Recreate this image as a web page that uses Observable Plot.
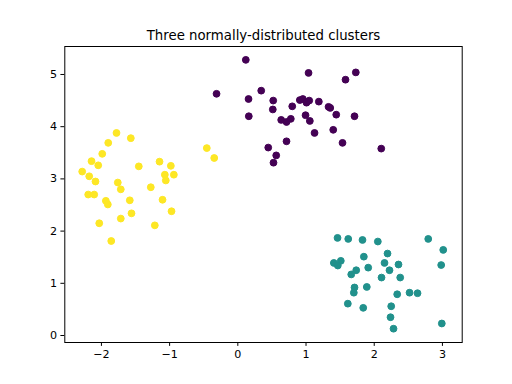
<!DOCTYPE html>
<html><head><meta charset="utf-8">
<script src="https://cdn.jsdelivr.net/npm/d3@7"></script>
<script src="https://cdn.jsdelivr.net/npm/@observablehq/plot@0.6"></script>
<style>body{margin:0;background:#fff;}</style>
</head><body><div id="chart"></div>
<script>
const title = "Three normally-distributed clusters";
const xTicks = [-2, -1, 0, 1, 2, 3];
const yTicks = [0, 1, 2, 3, 4, 5];
const clusterNames = ["A", "B", "C"];
const clusterColors = ["#440154", "#21918c", "#fde725"];

const clusterAX = [0.117,1.037,1.730,1.579,-0.312,0.343,0.157,0.519,0.513,0.161,0.798,0.909,0.953,1.007,1.047,1.188,1.330,1.355,1.443,1.711,0.993,1.056,0.636,0.714,0.777,1.125,1.399,0.714,1.535,0.446,2.103,0.563,0.523];
const clusterAY = [5.28,5.03,5.04,4.90,4.63,4.69,4.53,4.50,4.33,4.20,4.39,4.51,4.53,4.46,4.50,4.48,4.38,4.36,4.23,4.20,4.22,4.11,4.13,4.09,4.15,3.88,3.94,3.72,3.69,3.60,3.58,3.45,3.31];

const clusterBX = [1.462,1.619,1.828,2.053,2.792,3.012,2.195,1.848,1.408,1.510,1.466,2.151,2.356,2.982,1.736,1.663,1.912,2.224,2.107,2.381,1.711,1.701,1.891,2.337,2.518,2.635,1.613,1.839,2.249,2.239,2.283,2.991];
const clusterBY = [1.87,1.85,1.83,1.80,1.85,1.64,1.57,1.51,1.39,1.43,1.34,1.39,1.36,1.35,1.25,1.17,1.30,1.25,1.11,1.11,0.92,0.82,0.93,0.79,0.82,0.81,0.61,0.53,0.56,0.35,0.13,0.23];

const clusterCX = [-1.779,-1.569,-1.900,-1.988,-2.145,-2.047,-2.282,-2.179,-2.087,-1.760,-1.716,-1.452,-1.148,-0.982,-1.070,-0.938,-1.056,-1.276,-2.194,-2.106,-1.935,-1.906,-1.584,-1.104,-1.559,-0.972,-1.716,-2.032,-1.217,-1.856,-0.455,-0.346];
const clusterCY = [3.88,3.78,3.69,3.48,3.34,3.26,3.14,3.05,2.95,2.93,2.80,3.24,3.33,3.25,3.08,3.08,2.97,2.84,2.70,2.70,2.58,2.51,2.59,2.60,2.34,2.38,2.24,2.15,2.11,1.81,3.59,3.40];

const points = [];
[[clusterAX, clusterAY], [clusterBX, clusterBY], [clusterCX, clusterCY]].forEach(([xs, ys], k) => {
  xs.forEach((x, i) => points.push({x, y: ys[i], c: clusterNames[k]}));
});

const chart = Plot.plot({
  width: 512,
  height: 384,
  marginLeft: 64.3,
  marginRight: 50.3,
  marginTop: 46,
  marginBottom: 42,
  style: {fontFamily: "DejaVu Sans", color: "#000", background: "#fff", overflow: "visible"},
  x: {domain: [-2.537, 3.29], label: null},
  y: {domain: [-0.134, 5.536], label: null},
  color: {domain: clusterNames, range: clusterColors},
  marks: [
    Plot.dot(points, {x: "x", y: "y", fill: "c", stroke: "c", strokeWidth: 1, r: 3.4}),
    Plot.frame({stroke: "#000", strokeWidth: 1}),
    Plot.axisX({ticks: xTicks, tickSize: 3.9, tickPadding: 3.9, fontSize: 11.1, label: null, tickFormat: d3.format("d")}),
    Plot.axisY({ticks: yTicks, tickSize: 3.9, tickPadding: 3.9, fontSize: 11.1, label: null, tickFormat: d3.format("d")}),
    Plot.text([title], {frameAnchor: "top", lineAnchor: "bottom", dy: -6.7, fontSize: 13.3, fill: "#000"})
  ]
});
document.getElementById("chart").appendChild(chart);
</script>
</body></html>
